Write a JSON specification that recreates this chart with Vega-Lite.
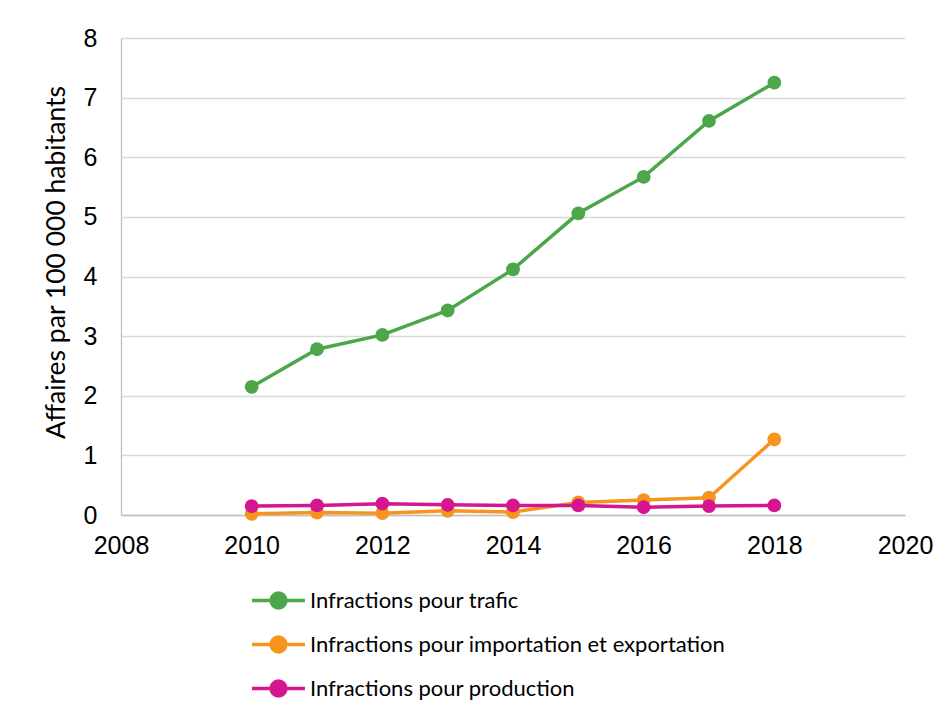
{
  "$schema": "https://vega.github.io/schema/vega-lite/v6.json",
  "width": 784,
  "height": 477,
  "autosize": {"type": "none"},
  "padding": {"left": 121, "top": 38, "right": 47, "bottom": 204},
  "background": "white",
  "config": {"view": {"stroke": null}},
  "data": {"values": [
    {"annee": 2010, "serie": "Infractions pour trafic", "valeur": 2.15},
    {"annee": 2011, "serie": "Infractions pour trafic", "valeur": 2.78},
    {"annee": 2012, "serie": "Infractions pour trafic", "valeur": 3.02},
    {"annee": 2013, "serie": "Infractions pour trafic", "valeur": 3.43},
    {"annee": 2014, "serie": "Infractions pour trafic", "valeur": 4.12},
    {"annee": 2015, "serie": "Infractions pour trafic", "valeur": 5.06},
    {"annee": 2016, "serie": "Infractions pour trafic", "valeur": 5.67},
    {"annee": 2017, "serie": "Infractions pour trafic", "valeur": 6.61},
    {"annee": 2018, "serie": "Infractions pour trafic", "valeur": 7.25},
    {"annee": 2010, "serie": "Infractions pour importation et exportation", "valeur": 0.02},
    {"annee": 2011, "serie": "Infractions pour importation et exportation", "valeur": 0.04},
    {"annee": 2012, "serie": "Infractions pour importation et exportation", "valeur": 0.03},
    {"annee": 2013, "serie": "Infractions pour importation et exportation", "valeur": 0.07},
    {"annee": 2014, "serie": "Infractions pour importation et exportation", "valeur": 0.05},
    {"annee": 2015, "serie": "Infractions pour importation et exportation", "valeur": 0.21},
    {"annee": 2016, "serie": "Infractions pour importation et exportation", "valeur": 0.25},
    {"annee": 2017, "serie": "Infractions pour importation et exportation", "valeur": 0.29},
    {"annee": 2018, "serie": "Infractions pour importation et exportation", "valeur": 1.27},
    {"annee": 2010, "serie": "Infractions pour production", "valeur": 0.15},
    {"annee": 2011, "serie": "Infractions pour production", "valeur": 0.16},
    {"annee": 2012, "serie": "Infractions pour production", "valeur": 0.19},
    {"annee": 2013, "serie": "Infractions pour production", "valeur": 0.17},
    {"annee": 2014, "serie": "Infractions pour production", "valeur": 0.16},
    {"annee": 2015, "serie": "Infractions pour production", "valeur": 0.16},
    {"annee": 2016, "serie": "Infractions pour production", "valeur": 0.13},
    {"annee": 2017, "serie": "Infractions pour production", "valeur": 0.15},
    {"annee": 2018, "serie": "Infractions pour production", "valeur": 0.16}
  ]},
  "mark": {"type": "line", "strokeWidth": 3.5, "point": {"size": 190, "filled": true, "opacity": 1}},
  "encoding": {
    "x": {
      "field": "annee", "type": "quantitative",
      "scale": {"domain": [2008, 2020], "nice": false, "zero": false},
      "axis": {
        "values": [2008, 2010, 2012, 2014, 2016, 2018, 2020],
        "format": "d", "title": null, "grid": false, "ticks": false,
        "domainColor": "#bfbfbf", "domainWidth": 1.5,
        "labelFont": "Liberation Sans", "labelFontSize": 25, "labelColor": "#000000",
        "labelPadding": 18, "labelFlush": false
      }
    },
    "y": {
      "field": "valeur", "type": "quantitative",
      "scale": {"domain": [0, 8], "nice": false},
      "axis": {
        "values": [0, 1, 2, 3, 4, 5, 6, 7, 8],
        "title": "Affaires par 100 000 habitants",
        "titleFont": "Lato", "titleFontSize": 26.5, "titleFontWeight": "normal", "titleColor": "#000000",
        "titlePadding": 13, "titleY": 224,
        "grid": true, "gridColor": "#d9d9d9", "gridWidth": 1.3,
        "ticks": false, "domainColor": "#bfbfbf", "domainWidth": 1.3,
        "labelFont": "Liberation Sans", "labelFontSize": 25, "labelColor": "#000000",
        "labelPadding": 24
      }
    },
    "color": {
      "field": "serie", "type": "nominal",
      "scale": {
        "domain": ["Infractions pour trafic", "Infractions pour importation et exportation", "Infractions pour production"],
        "range": ["#4ca64a", "#f7941e", "#d6168e"]
      },
      "legend": {
        "title": null, "orient": "none", "legendX": 129, "legendY": 534,
        "direction": "vertical",
        "symbolType": "M-1,0H1M-0.28,0A0.28,0.28 0 1 1 0.28,0A0.28,0.28 0 1 1 -0.28,0Z",
        "symbolSize": 2800, "symbolStrokeWidth": 3.5,
        "labelFont": "Lato", "labelFontSize": 22, "labelColor": "#000000", "labelLimit": 600,
        "labelOffset": 3, "rowPadding": 1, "symbolOffset": 0
      }
    }
  }
}
